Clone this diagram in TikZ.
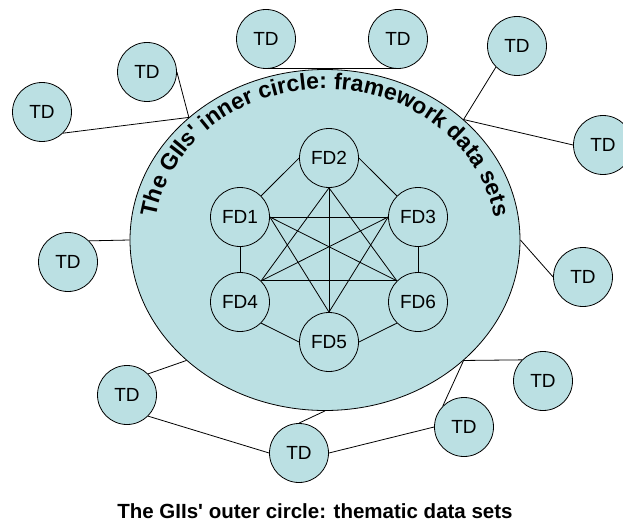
\documentclass[tikz,border=0pt]{standalone}
\usepackage{fontspec}
\setmainfont[Ligatures=TeXOff]{Liberation Sans}
\usetikzlibrary{shapes.geometric,decorations.text}
\definecolor{giiblue}{RGB}{187,224,227}
\tikzset{
  dataset/.style={circle, draw, fill=giiblue, minimum size=59pt, inner sep=0pt,
    font=\fontsize{19}{19}\selectfont},
}
\begin{document}
\begin{tikzpicture}[x=1pt, y=-1pt, line width=0.8pt]
    \useasboundingbox (0,0) rectangle (623,524);
    % inner circle
    \node[ellipse, draw, fill=giiblue, minimum width=390pt, minimum height=341pt, inner sep=0pt] (inner) at (325,240) {};
    \path[decorate, decoration={text along path, text align=center,
        text={|\fontsize{23}{23}\selectfont\bfseries|The GIIs' inner circle: framework data sets}}]
        (154.6,226.8) arc[start angle=175, end angle=5, x radius=171pt, y radius=151pt];
    % framework data sets
    \node[dataset] (fd1) at (240,217) {FD1};
    \node[dataset] (fd2) at (329,158) {FD2};
    \node[dataset] (fd3) at (418,217) {FD3};
    \node[dataset] (fd4) at (240,302) {FD4};
    \node[dataset] (fd5) at (329,342) {FD5};
    \node[dataset] (fd6) at (418,302) {FD6};
    \draw (fd1.north east) -- (fd2.west);
    \draw (fd2.east) -- (fd3.north west);
    \draw (fd1.south) -- (fd4.north);
    \draw (fd3.south) -- (fd6.north);
    \draw (fd4.south east) -- (fd5.west);
    \draw (fd5.east) -- (fd6.south west);
    \draw (fd1.east) -- (fd3.west);
    \draw (fd1.east) -- (fd6.north west);
    \draw (fd1.east) -- (fd5.north);
    \draw (fd2.south) -- (fd4.north east);
    \draw (fd2.south) -- (fd5.north);
    \draw (fd2.south) -- (fd6.north west);
    \draw (fd3.west) -- (fd4.north east);
    \draw (fd3.west) -- (fd5.north);
    \draw (fd4.north east) -- (fd6.north west);
    % thematic data sets
    \node[dataset] (td1) at (42,112) {TD};
    \node[dataset] (td2) at (147,72) {TD};
    \node[dataset] (td3) at (266,39) {TD};
    \node[dataset] (td4) at (398,39) {TD};
    \node[dataset] (td5) at (517,46) {TD};
    \node[dataset] (td6) at (603,145) {TD};
    \node[dataset] (td7) at (583,277) {TD};
    \node[dataset] (td8) at (543,381) {TD};
    \node[dataset] (td9) at (464,427) {TD};
    \node[dataset] (td10) at (299,453) {TD};
    \node[dataset] (td11) at (127,395) {TD};
    \node[dataset] (td12) at (68,262) {TD};
    \draw (td1.south east) -- (inner.138.5) -- (td2.east);
    \draw (td3.south) -- (td4.south);
    \draw (td5.south west) -- (inner.41.5) -- (td6.west);
    \draw (inner.east) -- (td7.west);
    \draw (td8.north west) -- (inner.-41) -- (td9.north west);
    \draw (td9.west) -- (td10.east);
    \draw (td10.north) -- (inner.south);
    \draw (td11.south east) -- (td10.west);
    \draw (td11.north east) -- (inner.221.7);
    \draw (td12.north east) -- (inner.west);
    \node[font=\fontsize{20.5}{24}\selectfont\bfseries, anchor=base] (outer) at (315,518)
        {The GIIs' outer circle: thematic data sets};
\end{tikzpicture}
\end{document}
